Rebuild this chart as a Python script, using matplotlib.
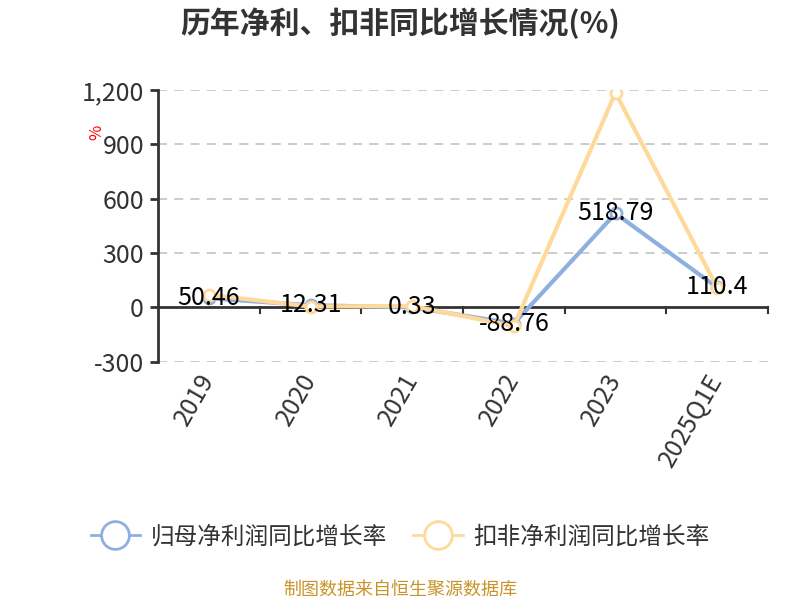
import matplotlib.pyplot as plt
import numpy as np
from matplotlib.lines import Line2D

plt.rcParams['font.family'] = ['Noto Sans CJK SC', 'DejaVu Sans']

# data
categories = ["2019", "2020", "2021", "2022", "2023", "2025Q1E"]
net_profit = [50.46, 12.31, 0.33, -88.76, 518.79, 110.4]
deducted = [70, 5, 8, -103, 1185, 110]
blue_labels = ["50.46", "12.31", "0.33", "-88.76", "518.79", "110.4"]

blue = "#8eb0e0"
orange = "#ffd99a"
dark = "#333333"

fig = plt.figure(figsize=(8, 6), dpi=100)
ax = fig.add_axes([0.1975, 0.397, 0.7625, 0.453])

x = np.arange(len(categories))
ax.plot(x, net_profit, color=blue, lw=3, marker="o", ms=8,
        mfc="white", mec=blue, mew=2, zorder=3)
ax.plot(x, deducted, color=orange, lw=3, marker="o", ms=8,
        mfc="white", mec=orange, mew=2, zorder=4)

for xi, v, s in zip(x, net_profit, blue_labels):
    ax.text(xi, v, s, ha="center", va="center", fontsize=18, color="black", zorder=5)

ax.set_xlim(-0.5, len(categories) - 0.5)
ax.set_ylim(-300, 1200)
ax.set_yticks([-300, 0, 300, 600, 900, 1200])
ax.set_yticklabels(["-300", "0", "300", "600", "900", "1,200"])

for yv in [-300, 300, 600, 900, 1200]:
    ax.axhline(yv, color="#c8c8c8", lw=1.3, ls=(0, (5, 4)), zorder=1)

for side in ["top", "right", "bottom"]:
    ax.spines[side].set_visible(False)
ax.spines["left"].set_color(dark)
ax.spines["left"].set_linewidth(2)
ax.axhline(0, color=dark, lw=2, zorder=2)

# category boundary ticks hang under the zero line
for b in np.arange(0.5, len(categories) + 0.5, 1.0):
    ax.plot([b, b], [0, -30], color=dark, lw=1.5, clip_on=False, zorder=2)

ax.set_xticks(x)
ax.set_xticklabels(categories, rotation=60, ha="right", va="center",
                   rotation_mode="anchor", fontsize=18, color=dark)
ax.tick_params(axis="x", length=0, pad=10)
ax.tick_params(axis="y", length=6, width=2, color=dark, labelsize=18,
               labelcolor=dark, pad=4)

fig.text(0.5, 0.962, "历年净利、扣非同比增长情况(%)", ha="center", va="center",
         fontsize=21.5, fontweight="bold", color=dark)
fig.text(0.121, 0.78, "%", rotation=90, ha="center", va="center",
         fontsize=12, color="red")

handles = [
    Line2D([], [], color=blue, lw=2, marker="o", ms=20, mfc="white", mec=blue, mew=2),
    Line2D([], [], color=orange, lw=2, marker="o", ms=20, mfc="white", mec=orange, mew=2),
]
fig.legend(handles, ["归母净利润同比增长率", "扣非净利润同比增长率"],
           loc="center", bbox_to_anchor=(0.5, 0.105), ncol=2, frameon=False,
           fontsize=17, handlelength=2.1, columnspacing=1.1, handletextpad=0.45,
           labelcolor=dark)

fig.text(0.5, 0.017, "制图数据来自恒生聚源数据库", ha="center", va="center",
         fontsize=13, color="#c8942a")

fig.savefig("out.png", dpi=100)
